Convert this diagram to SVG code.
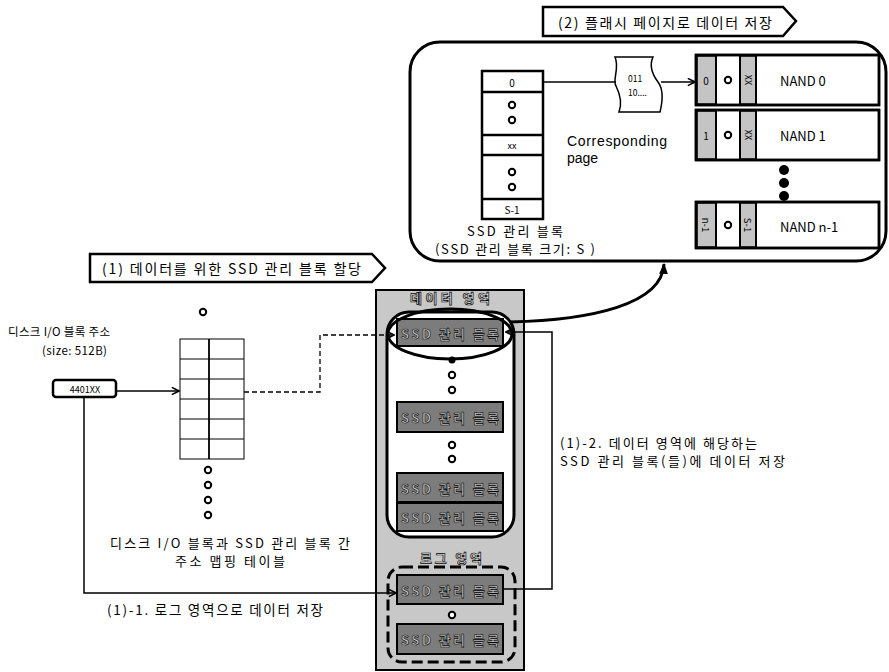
<svg xmlns="http://www.w3.org/2000/svg" width="889" height="672" viewBox="0 0 889 672">
<defs>
  <marker id="open" viewBox="0 0 10 10" refX="9" refY="5" markerWidth="9" markerHeight="9" orient="auto" markerUnits="userSpaceOnUse">
    <path d="M1,1 L9,5 L1,9" fill="none" stroke="#000" stroke-width="1.8"/>
  </marker>
  <marker id="solid" viewBox="0 0 10 10" refX="9" refY="5" markerWidth="11" markerHeight="11" orient="auto" markerUnits="userSpaceOnUse">
    <path d="M0,1 L10,5 L0,9 Z" fill="#000"/>
  </marker>
</defs>
<style>
  text { font-family: "Noto Sans CJK KR", "Liberation Sans", sans-serif; fill: #000; dominant-baseline: central; }
  .lat { font-family: "Liberation Sans", "Noto Sans", sans-serif; }
  .mid { text-anchor: middle; }
  .banner { fill: #fff; stroke: #000; stroke-width: 2.5; }
  .thin { fill: none; stroke: #000; stroke-width: 1.5; }
  .cell { fill: #fff; stroke: #000; stroke-width: 2.5; }
  .gray { fill: #c4c4c4; stroke: #000; stroke-width: 1.5; }
  .hol { fill: #fff; stroke: #000; stroke-width: 2; }
  .blk { fill: #7c7c7c; stroke: #000; stroke-width: 2; }
  .blkt { font-size: 13px; font-weight: bold; fill: #cfcfcf; stroke: #000; stroke-width: 0.6; }
  .area { font-size: 13px; font-weight: bold; fill: #e6e6e6; stroke: #000; stroke-width: 0.7; }
</style>

<!-- banners -->
<g id="banner2">
  <polygon class="banner" points="543,7 783,7 796,21 783,36 543,36"/>
  <text x="558" y="22" font-size="14" textLength="214" lengthAdjust="spacing">(2) 플래시 페이지로 데이터 저장</text>
</g>
<g id="banner1">
  <polygon class="banner" points="90,254 372,254 385,268 372,282 90,282"/>
  <text x="102" y="268" font-size="14" textLength="259" lengthAdjust="spacing">(1) 데이터를 위한 SSD 관리 블록 할당</text>
</g>

<!-- flash page box -->
<g id="flash-box">
  <rect x="410" y="42" width="476" height="219" rx="30" fill="#fff" stroke="#000" stroke-width="3"/>
</g>

<g id="ssd-block-column">
  <rect class="cell" x="482" y="71" width="61" height="148"/>
  <line x1="482" y1="92" x2="543" y2="92" stroke="#000" stroke-width="2.5"/>
  <line x1="482" y1="135" x2="543" y2="135" stroke="#000" stroke-width="2.5"/>
  <line x1="482" y1="155" x2="543" y2="155" stroke="#000" stroke-width="2.5"/>
  <line x1="482" y1="199" x2="543" y2="199" stroke="#000" stroke-width="2.5"/>
  <text class="mid" x="512" y="82" font-size="10">0</text>
  <circle class="hol" cx="512" cy="105" r="3.2"/>
  <circle class="hol" cx="512" cy="120" r="3.2"/>
  <text class="mid" x="512" y="145" font-size="9">xx</text>
  <circle class="hol" cx="512" cy="172" r="3.2"/>
  <circle class="hol" cx="512" cy="187" r="3.2"/>
  <text class="mid" x="512" y="209" font-size="10">S-1</text>
  <text x="467" y="230" font-size="13" textLength="96" lengthAdjust="spacing">SSD 관리 블록</text>
  <text x="435" y="248" font-size="13" textLength="160" lengthAdjust="spacing">(SSD 관리 블록 크기: S )</text>
</g>

<g id="page-doc">
  <path d="M615 57 L653 57 C648 68 655 78 658 82 C664 90 662 104 660 112 L619 112 C622 104 620 94 616 86 C612 80 620 68 615 57 Z" fill="#fff" stroke="#000" stroke-width="1.5"/>
  <text x="628" y="78" font-size="8.5">011</text>
  <text x="628" y="92" font-size="8.5">10....</text>
</g>

<g id="corresponding">
  <text class="lat" x="567" y="141" font-size="14" textLength="100" lengthAdjust="spacing">Corresponding</text>
  <text class="lat" x="567" y="158" font-size="14">page</text>
</g>

<g id="nand0">
  <rect class="cell" x="696" y="55" width="183" height="50"/>
  <rect class="gray" x="697" y="56" width="19" height="48"/>
  <rect class="gray" x="740" y="56" width="16" height="48"/>
  <line x1="716" y1="55" x2="716" y2="105" stroke="#000" stroke-width="2"/>
  <line x1="740" y1="55" x2="740" y2="105" stroke="#000" stroke-width="2"/>
  <line x1="756" y1="55" x2="756" y2="105" stroke="#000" stroke-width="2"/>
  <rect x="696" y="55" width="183" height="50" fill="none" stroke="#000" stroke-width="2.5"/>
  <text class="mid" x="706" y="80" font-size="10">0</text>
  <circle class="hol" cx="728" cy="80" r="3.2"/>
  <text class="mid" x="748" y="80" font-size="9" transform="rotate(90 748 80)">XX</text>
  <text x="780" y="80" font-size="13">NAND 0</text>
</g>
<g id="nand1">
  <rect class="cell" x="696" y="110" width="183" height="50"/>
  <rect class="gray" x="697" y="111" width="19" height="48"/>
  <rect class="gray" x="740" y="111" width="16" height="48"/>
  <line x1="716" y1="110" x2="716" y2="160" stroke="#000" stroke-width="2"/>
  <line x1="740" y1="110" x2="740" y2="160" stroke="#000" stroke-width="2"/>
  <line x1="756" y1="110" x2="756" y2="160" stroke="#000" stroke-width="2"/>
  <rect x="696" y="110" width="183" height="50" fill="none" stroke="#000" stroke-width="2.5"/>
  <text class="mid" x="706" y="135" font-size="10">1</text>
  <circle class="hol" cx="728" cy="135" r="3.2"/>
  <text class="mid" x="748" y="135" font-size="9" transform="rotate(90 748 135)">XX</text>
  <text x="780" y="135" font-size="13">NAND 1</text>
</g>
<g id="nand-dots">
  <circle cx="784" cy="170" r="5" fill="#000"/>
  <circle cx="784" cy="183" r="5" fill="#000"/>
  <circle cx="784" cy="196" r="5" fill="#000"/>
</g>
<g id="nandn1">
  <rect class="cell" x="696" y="202" width="183" height="46"/>
  <rect class="gray" x="697" y="203" width="19" height="44"/>
  <rect class="gray" x="740" y="203" width="16" height="44"/>
  <line x1="716" y1="202" x2="716" y2="248" stroke="#000" stroke-width="2"/>
  <line x1="740" y1="202" x2="740" y2="248" stroke="#000" stroke-width="2"/>
  <line x1="756" y1="202" x2="756" y2="248" stroke="#000" stroke-width="2"/>
  <rect x="696" y="202" width="183" height="46" fill="none" stroke="#000" stroke-width="2.5"/>
  <text class="mid" x="706" y="225" font-size="9.5" transform="rotate(90 706 225)">n-1</text>
  <circle class="hol" cx="728" cy="225" r="3.2"/>
  <text class="mid" x="748" y="225" font-size="9.5" transform="rotate(90 748 225)">S-1</text>
  <text x="780" y="226" font-size="13">NAND n-1</text>
</g>

<!-- left side -->
<g id="disk-addr">
  <text x="8" y="331" font-size="11.5" textLength="102" lengthAdjust="spacing">디스크 I/O 블록 주소</text>
  <text x="42" y="350" font-size="11.5" textLength="65" lengthAdjust="spacing">(size: 512B)</text>
  <rect x="53" y="380" width="63" height="17" rx="3" fill="#fff" stroke="#000" stroke-width="2.5"/>
  <text class="mid" x="85" y="389" font-size="9">4401XX</text>
</g>

<g id="mapping-table">
  <circle class="hol" cx="203" cy="312" r="3.2"/>
  <rect x="180" y="339" width="64" height="120" fill="#fff" stroke="#000" stroke-width="1"/>
  <g stroke="#000" stroke-width="1">
    <line x1="180" y1="359" x2="244" y2="359"/>
    <line x1="180" y1="379" x2="244" y2="379"/>
    <line x1="180" y1="399" x2="244" y2="399"/>
    <line x1="180" y1="419" x2="244" y2="419"/>
    <line x1="180" y1="439" x2="244" y2="439"/>
  </g>
  <line x1="209" y1="339" x2="209" y2="459" stroke="#000" stroke-width="1.8"/>
  <circle class="hol" cx="208" cy="470" r="3.2"/>
  <circle class="hol" cx="208" cy="485" r="3.2"/>
  <circle class="hol" cx="208" cy="500" r="3.2"/>
  <circle class="hol" cx="208" cy="515" r="3.2"/>
  <text x="110" y="542" font-size="13" textLength="240" lengthAdjust="spacing">디스크 I/O 블록과 SSD 관리 블록 간</text>
  <text x="175" y="560" font-size="13" textLength="110" lengthAdjust="spacing">주소 맵핑 테이블</text>
</g>

<!-- data / log area -->
<g id="storage-column">
  <rect x="376" y="290" width="148" height="380" fill="#c8c8c8" stroke="#000" stroke-width="2"/>
  <text class="mid area" x="450" y="297" textLength="80" lengthAdjust="spacing">데이터 영역</text>
  <rect x="387" y="312" width="127" height="225" rx="22" fill="#fff" stroke="#000" stroke-width="3"/>
</g>
<g id="data-block1">
  <rect class="blk" x="397" y="319" width="106" height="27"/>
  <text class="mid blkt" x="450" y="333" textLength="98" lengthAdjust="spacing">SSD 관리 블록</text>
  <ellipse cx="450" cy="334" rx="62" ry="25" fill="none" stroke="#000" stroke-width="3"/>
  <circle cx="452" cy="360" r="3.5" fill="#000"/>
  <circle class="hol" cx="452" cy="375" r="3.2"/>
  <circle class="hol" cx="452" cy="390" r="3.2"/>
</g>
<g id="data-block2">
  <rect class="blk" x="397" y="402" width="106" height="30"/>
  <text class="mid blkt" x="450" y="417" textLength="98" lengthAdjust="spacing">SSD 관리 블록</text>
  <circle class="hol" cx="452" cy="445" r="3.2"/>
  <circle class="hol" cx="452" cy="459" r="3.2"/>
</g>
<g id="data-block3">
  <rect class="blk" x="397" y="473" width="106" height="29"/>
  <text class="mid blkt" x="450" y="488" textLength="98" lengthAdjust="spacing">SSD 관리 블록</text>
</g>
<g id="data-block4">
  <rect class="blk" x="397" y="503" width="106" height="28"/>
  <text class="mid blkt" x="450" y="517" textLength="98" lengthAdjust="spacing">SSD 관리 블록</text>
</g>
<g id="log-area">
  <text class="mid area" x="451" y="557" textLength="62" lengthAdjust="spacing">로그 영역</text>
  <rect x="388" y="567" width="127" height="95" rx="14" fill="none" stroke="#000" stroke-width="3" stroke-dasharray="11 5"/>
</g>
<g id="log-block1">
  <rect class="blk" x="397" y="575" width="106" height="29"/>
  <text class="mid blkt" x="450" y="590" textLength="98" lengthAdjust="spacing">SSD 관리 블록</text>
  <circle class="hol" cx="452" cy="615" r="3.2"/>
</g>
<g id="log-block2">
  <rect class="blk" x="397" y="624" width="106" height="30"/>
  <text class="mid blkt" x="450" y="639" textLength="98" lengthAdjust="spacing">SSD 관리 블록</text>
</g>

<g id="right-label">
  <text x="560" y="442" font-size="13" textLength="197" lengthAdjust="spacing">(1)-2. 데이터 영역에 해당하는</text>
  <text x="560" y="460" font-size="13" textLength="225" lengthAdjust="spacing">SSD 관리 블록(들)에 데이터 저장</text>
</g>
<g id="bottom-label">
  <text x="107" y="609" font-size="13.5" textLength="216" lengthAdjust="spacing">(1)-1. 로그 영역으로 데이터 저장</text>
</g>

<!-- connectors -->
<g id="connectors">
  <path class="thin" d="M543 82 H616"/>
  <path class="thin" d="M661 82 H695" marker-end="url(#open)"/>
  <path class="thin" d="M116 391 H179" marker-end="url(#open)"/>
  <path d="M244 392 H320 V335 H394" fill="none" stroke="#000" stroke-width="1.3" stroke-dasharray="5 3" marker-end="url(#open)"/>
  <path class="thin" d="M84 397 V593 H396" stroke-width="2" marker-end="url(#open)"/>
  <path class="thin" d="M503 589 H552 V332 H506" stroke-width="2" marker-end="url(#open)"/>
  <path d="M510 322 C590 320 662 305 664 264" fill="none" stroke="#000" stroke-width="3" marker-end="url(#solid)"/>
</g>
</svg>
